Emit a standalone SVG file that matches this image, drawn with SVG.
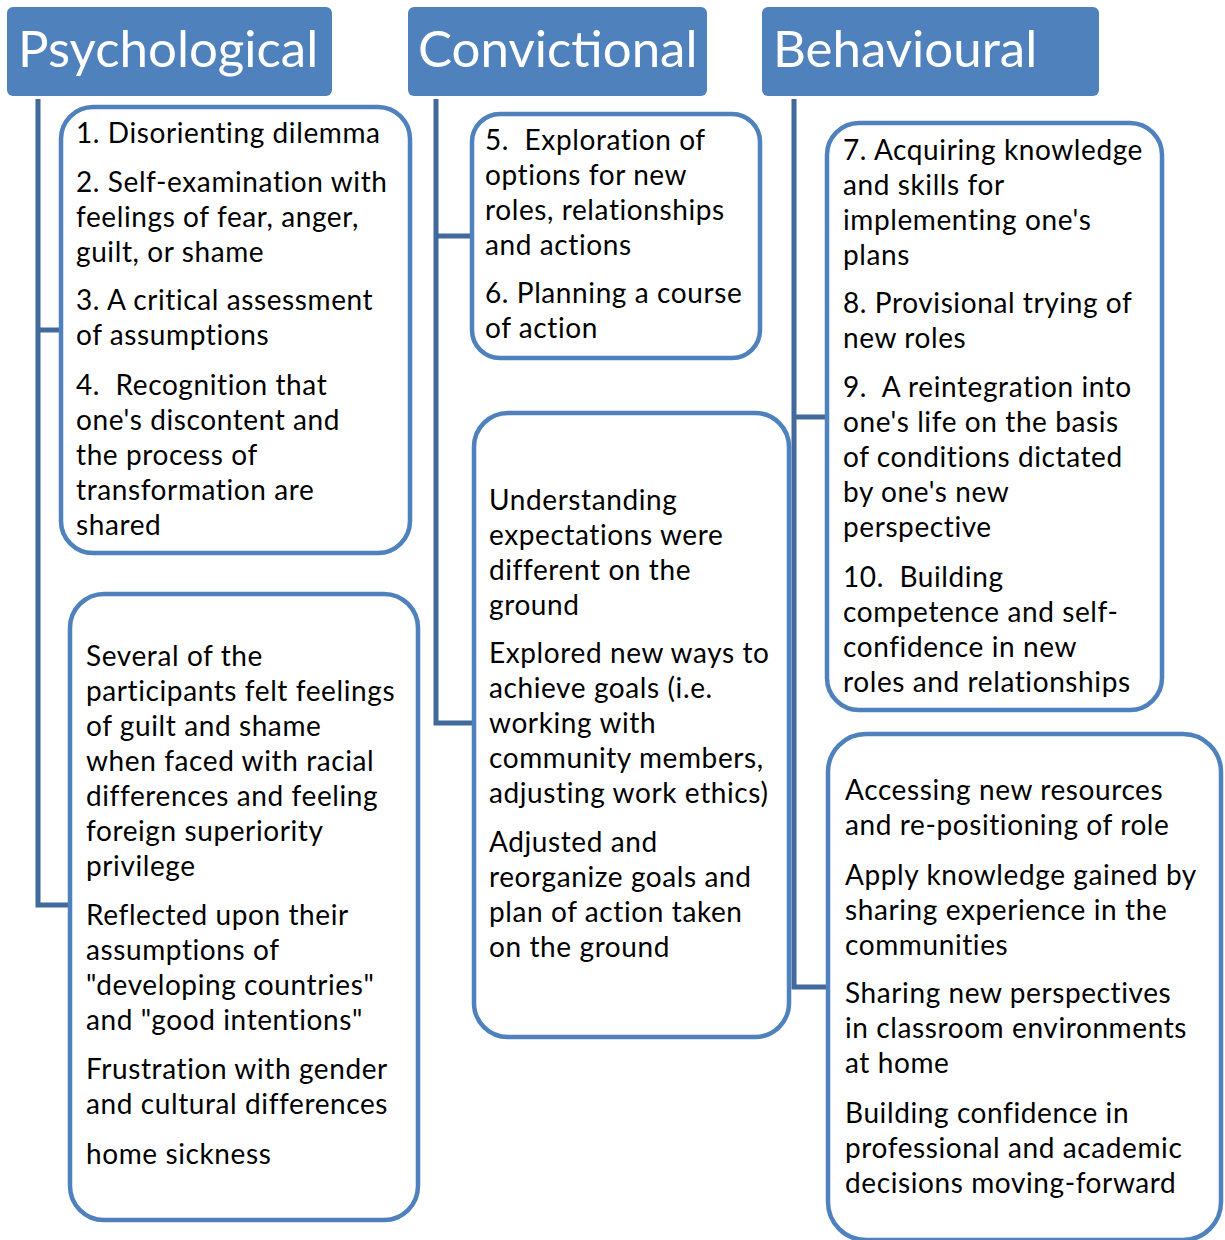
<svg xmlns="http://www.w3.org/2000/svg" width="1225" height="1240" viewBox="0 0 1225 1240">
<style>
.hdr{fill:#4F81BD;}
.hdrt{font-family:Lato,"Liberation Sans",sans-serif;font-size:51px;fill:#FFFFFF;}
.box{fill:#FFFFFF;stroke:#4F81BD;stroke-width:4.5;}
.t{font-family:Lato,"Liberation Sans",sans-serif;font-size:28px;letter-spacing:0.6px;fill:#000000;white-space:pre;}
.con{fill:none;stroke:#41699C;stroke-width:5;}
</style>
<rect width="1225" height="1240" fill="#FFFFFF"/>
<g id="connectors">
<path class="con" d="M38,99 V905 H72"/>
<path class="con" d="M38,330 H63"/>
<path class="con" d="M436,99 V723 H475"/>
<path class="con" d="M436,236 H474"/>
<path class="con" d="M794,99 V987 H829"/>
<path class="con" d="M794,417 H829"/>
</g>
<g id="psychological">
<rect class="hdr" x="7" y="7" width="325" height="89" rx="6"/>
<text class="hdrt" x="18" y="67">Psychological</text>
</g>
<g id="convictional">
<rect class="hdr" x="408" y="7" width="299" height="89" rx="6"/>
<text class="hdrt" x="418" y="67">Convictional</text>
</g>
<g id="behavioural">
<rect class="hdr" x="762" y="7" width="337" height="89" rx="6"/>
<text class="hdrt" x="773" y="67">Behavioural</text>
</g>
<g id="psych-steps">
<rect class="box" x="61" y="107" width="349" height="446" rx="32"/>
<text class="t" x="76" y="143">1. Disorienting dilemma</text>
<text class="t" x="76" y="192">2. Self-examination with</text>
<text class="t" x="76" y="227">feelings of fear, anger,</text>
<text class="t" x="76" y="262">guilt, or shame</text>
<text class="t" x="76" y="310">3. A critical assessment</text>
<text class="t" x="76" y="345">of assumptions</text>
<text class="t" x="76" y="395" xml:space="preserve">4.  Recognition that</text>
<text class="t" x="76" y="430">one's discontent and</text>
<text class="t" x="76" y="465">the process of</text>
<text class="t" x="76" y="500">transformation are</text>
<text class="t" x="76" y="535">shared</text>
</g>
<g id="psych-findings">
<rect class="box" x="70" y="594" width="348" height="626" rx="34"/>
<text class="t" x="86" y="666">Several of the</text>
<text class="t" x="86" y="701">participants felt feelings</text>
<text class="t" x="86" y="736">of guilt and shame</text>
<text class="t" x="86" y="771">when faced with racial</text>
<text class="t" x="86" y="806">differences and feeling</text>
<text class="t" x="86" y="841">foreign superiority</text>
<text class="t" x="86" y="876">privilege</text>
<text class="t" x="86" y="925">Reflected upon their</text>
<text class="t" x="86" y="960">assumptions of</text>
<text class="t" x="86" y="995">"developing countries"</text>
<text class="t" x="86" y="1030">and "good intentions"</text>
<text class="t" x="86" y="1079">Frustration with gender</text>
<text class="t" x="86" y="1114">and cultural differences</text>
<text class="t" x="86" y="1164">home sickness</text>
</g>
<g id="conv-steps">
<rect class="box" x="472" y="114" width="288" height="244" rx="28"/>
<text class="t" x="485" y="150" xml:space="preserve">5.  Exploration of</text>
<text class="t" x="485" y="185">options for new</text>
<text class="t" x="485" y="220">roles, relationships</text>
<text class="t" x="485" y="255">and actions</text>
<text class="t" x="485" y="303">6. Planning a course</text>
<text class="t" x="485" y="338">of action</text>
</g>
<g id="conv-findings">
<rect class="box" x="474" y="413" width="315" height="624" rx="34"/>
<text class="t" x="489" y="510">Understanding</text>
<text class="t" x="489" y="545">expectations were</text>
<text class="t" x="489" y="580">different on the</text>
<text class="t" x="489" y="615">ground</text>
<text class="t" x="489" y="663">Explored new ways to</text>
<text class="t" x="489" y="698">achieve goals (i.e.</text>
<text class="t" x="489" y="733">working with</text>
<text class="t" x="489" y="768">community members,</text>
<text class="t" x="489" y="803">adjusting work ethics)</text>
<text class="t" x="489" y="852">Adjusted and</text>
<text class="t" x="489" y="887">reorganize goals and</text>
<text class="t" x="489" y="922">plan of action taken</text>
<text class="t" x="489" y="957">on the ground</text>
</g>
<g id="behav-steps">
<rect class="box" x="827" y="123" width="335" height="587" rx="32"/>
<text class="t" x="843" y="160">7. Acquiring knowledge</text>
<text class="t" x="843" y="195">and skills for</text>
<text class="t" x="843" y="230">implementing one's</text>
<text class="t" x="843" y="265">plans</text>
<text class="t" x="843" y="313">8. Provisional trying of</text>
<text class="t" x="843" y="348">new roles</text>
<text class="t" x="843" y="397" xml:space="preserve">9.  A reintegration into</text>
<text class="t" x="843" y="432">one's life on the basis</text>
<text class="t" x="843" y="467">of conditions dictated</text>
<text class="t" x="843" y="502">by one's new</text>
<text class="t" x="843" y="537">perspective</text>
<text class="t" x="843" y="587" xml:space="preserve">10.  Building</text>
<text class="t" x="843" y="622">competence and self-</text>
<text class="t" x="843" y="657">confidence in new</text>
<text class="t" x="843" y="692">roles and relationships</text>
</g>
<g id="behav-findings">
<rect class="box" x="828" y="734" width="393" height="506" rx="38"/>
<text class="t" x="845" y="800">Accessing new resources</text>
<text class="t" x="845" y="835">and re-positioning of role</text>
<text class="t" x="845" y="885">Apply knowledge gained by</text>
<text class="t" x="845" y="920">sharing experience in the</text>
<text class="t" x="845" y="955">communities</text>
<text class="t" x="845" y="1003">Sharing new perspectives</text>
<text class="t" x="845" y="1038">in classroom environments</text>
<text class="t" x="845" y="1073">at home</text>
<text class="t" x="845" y="1123">Building confidence in</text>
<text class="t" x="845" y="1158">professional and academic</text>
<text class="t" x="845" y="1193">decisions moving-forward</text>
</g>
</svg>
